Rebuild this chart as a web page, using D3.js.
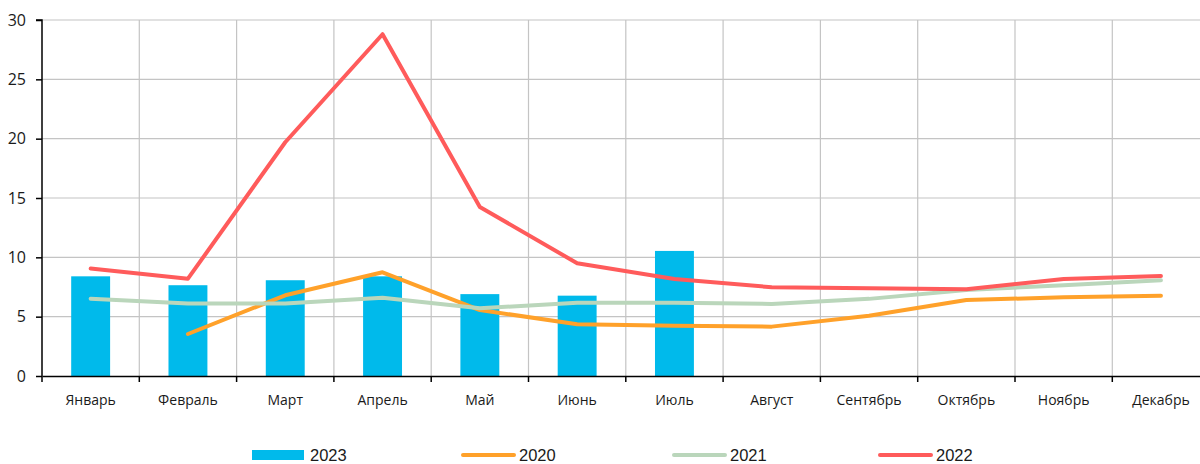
<!DOCTYPE html>
<html>
<head>
<meta charset="utf-8">
<script src="https://cdn.jsdelivr.net/npm/d3@7"></script>
<style>
  body { margin: 0; background: #fff; }
  text { fill: #1a1a1a; }
</style>
</head>
<body>
<div id="viz"><svg></svg></div>
<script>
const fullWidth = 1200;
const fullHeight = 464;

const months = ['Январь', 'Февраль', 'Март', 'Апрель', 'Май', 'Июнь',
  'Июль', 'Август', 'Сентябрь', 'Октябрь', 'Ноябрь', 'Декабрь'];

const values2023 = [8.4, 7.65, 8.07, 8.4, 6.9, 6.77, 10.54];
const values2020 = [null, 3.54, 6.8, 8.74, 5.56, 4.36, 4.24, 4.16, 5.08, 6.4, 6.63, 6.77];
const values2021 = [6.52, 6.1, 6.1, 6.6, 5.7, 6.18, 6.18, 6.07, 6.5, 7.25, 7.65, 8.07];
const values2022 = [9.05, 8.2, 19.7, 28.8, 14.25, 9.5, 8.18, 7.48, 7.4, 7.31, 8.18, 8.43];

const yTicks = [0, 5, 10, 15, 20, 25, 30];

const lineSeries = [
  { name: '2020', color: '#FFA12A', values: values2020 },
  { name: '2021', color: '#BAD6BB', values: values2021 },
  { name: '2022', color: '#FF5B5B', values: values2022 }
];
const barColor = '#00BAEB';

const margin = { top: 20, right: -9.6, bottom: 88, left: 42 },
  width = fullWidth - margin.left - margin.right,
  height = fullHeight - margin.top - margin.bottom;

const svg = d3.select('#viz svg')
  .attr('width', fullWidth)
  .attr('height', fullHeight);

const g = svg.append('g')
  .attr('transform', `translate(${margin.left},${margin.top})`);

const x = d3.scaleBand()
  .domain(months)
  .range([0, width])
  .paddingInner(0)
  .paddingOuter(0);

const y = d3.scaleLinear()
  .domain([0, 30])
  .range([height, 0]);

// grid
g.append('g')
  .selectAll('line.h')
  .data(yTicks.slice(1))
  .enter().append('line')
  .attr('x1', 0).attr('x2', width)
  .attr('y1', d => y(d)).attr('y2', d => y(d))
  .attr('stroke', '#c4c4c4').attr('stroke-width', 1.2);

g.append('g')
  .selectAll('line.v')
  .data(months.slice(1))
  .enter().append('line')
  .attr('x1', d => x(d)).attr('x2', d => x(d))
  .attr('y1', 0).attr('y2', height)
  .attr('stroke', '#c4c4c4').attr('stroke-width', 1.2);

// bars
const barW = x.bandwidth() * 0.4;
g.append('g')
  .selectAll('rect')
  .data(values2023)
  .enter().append('rect')
  .attr('x', (d, i) => x(months[i]) + x.bandwidth() / 2 - barW / 2)
  .attr('width', barW)
  .attr('y', d => y(d))
  .attr('height', d => height - y(d))
  .attr('fill', barColor);

// lines
const line = d3.line()
  .defined(d => d.v != null)
  .x(d => x(d.m) + x.bandwidth() / 2)
  .y(d => y(d.v));

for (const s of lineSeries) {
  g.append('path')
    .datum(s.values.map((v, i) => ({ m: months[i], v })))
    .attr('fill', 'none')
    .attr('stroke', s.color)
    .attr('stroke-width', 4)
    .attr('stroke-linejoin', 'round')
    .attr('stroke-linecap', 'round')
    .attr('d', line);
}

// axes
const yAxis = g.append('g')
  .call(d3.axisLeft(y).tickValues(yTicks).tickSize(6).tickPadding(10));
yAxis.selectAll('path, line').attr('stroke', '#000').attr('stroke-width', 1.5);
yAxis.select('.domain').attr('d', `M-6,0H0V${height}`);
yAxis.selectAll('text')
  .attr('font-family', 'Open Sans, sans-serif')
  .attr('font-size', 16)
  .attr('fill', '#1a1a1a');

const xAxis = g.append('g')
  .attr('transform', `translate(0,${height})`)
  .call(d3.axisBottom(x).tickSize(0).tickPadding(19));
xAxis.select('.domain').attr('stroke', '#000').attr('stroke-width', 1.5);
xAxis.selectAll('text')
  .attr('font-family', 'Open Sans, sans-serif')
  .attr('font-size', 14)
  .attr('fill', '#1a1a1a');

g.append('g')
  .selectAll('line')
  .data(months)
  .enter().append('line')
  .attr('x1', d => x(d)).attr('x2', d => x(d))
  .attr('y1', height).attr('y2', height + 6)
  .attr('stroke', '#000').attr('stroke-width', 1.5);

// legend
const legend = svg.append('g')
  .attr('transform', 'translate(0,455)');
const legendItems = [
  { name: '2023', color: barColor, bar: true, x: 252 },
  { name: lineSeries[0].name, color: lineSeries[0].color, x: 461 },
  { name: lineSeries[1].name, color: lineSeries[1].color, x: 672 },
  { name: lineSeries[2].name, color: lineSeries[2].color, x: 878 }
];
const li = legend.selectAll('g')
  .data(legendItems)
  .enter().append('g')
  .attr('transform', d => `translate(${d.x},0)`);

li.filter(d => d.bar).append('rect')
  .attr('x', 0).attr('y', -5).attr('width', 52).attr('height', 10)
  .attr('fill', d => d.color);
li.filter(d => !d.bar).append('line')
  .attr('x1', 2).attr('x2', 53).attr('y1', 0).attr('y2', 0)
  .attr('stroke', d => d.color).attr('stroke-width', 4)
  .attr('stroke-linecap', 'round');
li.append('text')
  .attr('x', 58)
  .attr('dy', '0.36em')
  .attr('font-family', 'Liberation Sans, Arial, sans-serif')
  .attr('font-size', 16.5)
  .text(d => d.name);
</script>
</body>
</html>
